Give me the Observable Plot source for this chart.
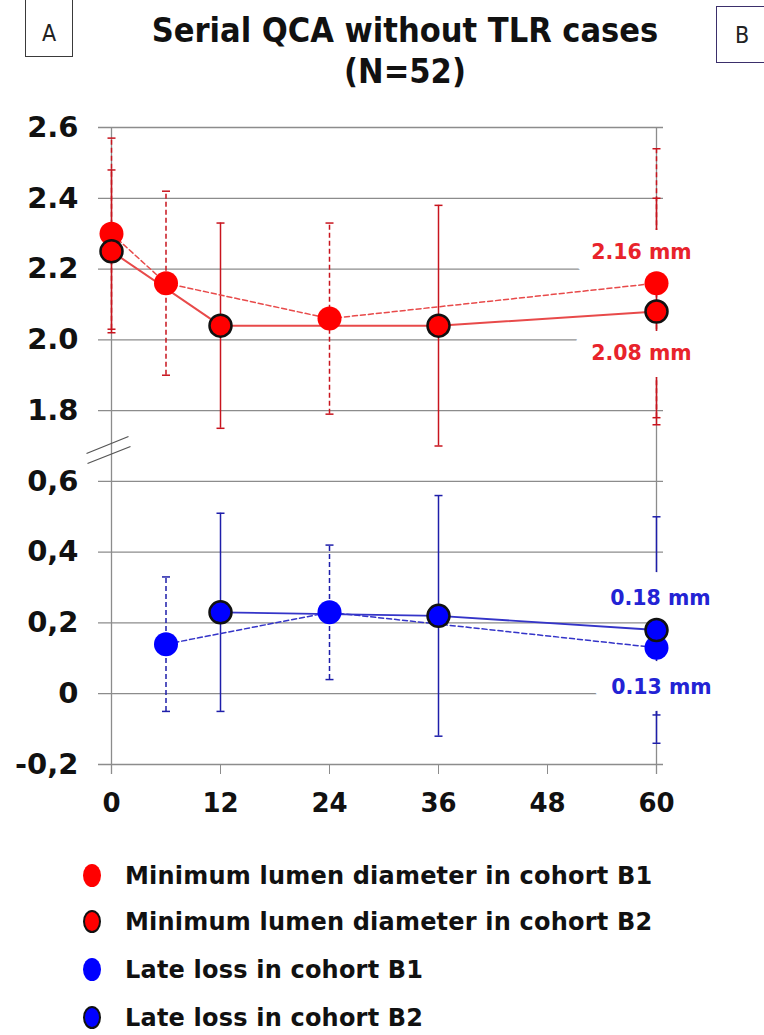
<!DOCTYPE html>
<html>
<head>
<meta charset="utf-8">
<script src="https://cdn.jsdelivr.net/npm/d3@7"></script>
<script src="https://cdn.jsdelivr.net/npm/@observablehq/plot@0.6"></script>
<style>
  body { margin: 0; background: #fff; }
  #page { position: relative; width: 764px; height: 1035px; overflow: hidden; font-family: "DejaVu Sans", sans-serif; background: #fff; }
  .title { position: absolute; left: 0; top: 10px; width: 810px; text-align: center; font-family: "DejaVu Sans Condensed", "DejaVu Sans", sans-serif; font-stretch: condensed; font-weight: bold; font-size: 34px; line-height: 41px; color: #111; }
  .boxA { position: absolute; left: 25px; top: -2px; width: 48px; height: 59px; border: 1.5px solid #3a3a3a; box-sizing: border-box; }
  .boxB { position: absolute; left: 716px; top: 6px; width: 70px; height: 57px; border: 1.5px solid #3b2f6b; box-sizing: border-box; }
  .letter { position: absolute; font-size: 23px; color: #222; line-height: 1; font-family: "DejaVu Sans Condensed", "DejaVu Sans", sans-serif; font-stretch: condensed; }
  #chart { position: absolute; left: 0; top: 100px; }
  .leg { position: absolute; left: 0; width: 764px; height: 30px; }
  .leg .mk { position: absolute; left: 83px; top: 3px; width: 18px; height: 23px; border-radius: 50%; box-sizing: border-box; }
  .leg .tx { position: absolute; left: 125px; top: 0; font-weight: bold; font-size: 24px; letter-spacing: 0.2px; line-height: 30px; color: #111; white-space: nowrap; }
</style>
</head>
<body>
<div id="page">
  <div class="boxA"></div>
  <div class="letter" style="left:42px;top:22px;">A</div>
  <div class="boxB"></div>
  <div class="letter" style="left:735px;top:24px;">B</div>
  <div class="title">Serial QCA without TLR cases<br>(N=52)</div>
  <div id="chart"></div>
  <div id="legend"></div>
</div>
<script>
// ---- data ----
const monthTicks = [0, 12, 24, 36, 48, 60];

const mldB1Months = [0, 6, 24, 60];
const mldB1 = [2.30, 2.16, 2.06, 2.16];
const mldB1Err = [0.27, 0.26, 0.27, 0.38];

const mldB2Months = [0, 12, 36, 60];
const mldB2 = [2.25, 2.04, 2.04, 2.08];
const mldB2Err = [0.23, 0.29, 0.34, 0.32];

const llB1Months = [6, 24, 60];
const llB1 = [0.14, 0.23, 0.13];
const llB1Err = [0.19, 0.19, 0.19];

const llB2Months = [12, 36, 60];
const llB2 = [0.23, 0.22, 0.18];
const llB2Err = [0.28, 0.34, 0.32];

const yTickValues = [-0.2, 0, 0.2, 0.4, 0.6, 1.8, 2.0, 2.2, 2.4, 2.6];
const yTickLabels = ["-0,2", "0", "0,2", "0,4", "0,6", "1.8", "2.0", "2.2", "2.4", "2.6"];

const legendLabels = [
  "Minimum lumen diameter in cohort B1",
  "Minimum lumen diameter in cohort B2",
  "Late loss in cohort B1",
  "Late loss in cohort B2"
];

// ---- broken axis: the upper panel (MLD) is shifted down by breakOffset ----
const breakOffset = 1.0;   // 1.8 sits one step above 0.6
const toPos = v => (v > 1 ? v - breakOffset : v);

function series(months, vals, errs) {
  return months.map((m, i) => ({
    month: m, value: vals[i],
    y: toPos(vals[i]), lo: toPos(vals[i] - errs[i]), hi: toPos(vals[i] + errs[i])
  }));
}
const sMB1 = series(mldB1Months, mldB1, mldB1Err);
const sMB2 = series(mldB2Months, mldB2, mldB2Err);
const sLB1 = series(llB1Months, llB1, llB1Err);
const sLB2 = series(llB2Months, llB2, llB2Err);

const yTickPos = yTickValues.map(toPos);
const labelByPos = new Map(yTickPos.map((p, i) => [p.toFixed(3), yTickLabels[i]]));
const breakPos = (toPos(yTickValues[5]) + yTickValues[4]) / 2;

const capSymbol = { draw(ctx, size) { const w = Math.sqrt(size / Math.PI); ctx.moveTo(-w, 0); ctx.lineTo(w, 0); } };
const breakSymbol = { draw(ctx) { ctx.moveTo(-22, 3.5); ctx.lineTo(20, -13.5); ctx.moveTo(-21, 13.5); ctx.lineTo(22, -3.5); } };

const RED = "#ff0000", RED_BAR = "#c8141e", RED_LINE = "#e84a4a";
const BLUE = "#0000ff", BLUE_BAR = "#1e1eaa", BLUE_LINE = "#3434c8";
const GRID = "#8c8c8c";

function errMarks(s, color, dash) {
  return [
    Plot.ruleX(s, { x: "month", y1: "lo", y2: "hi", stroke: color, strokeWidth: 1.5, strokeDasharray: dash }),
    Plot.dot(s, { x: "month", y: "hi", symbol: capSymbol, r: 4, stroke: color, strokeWidth: 1.5 }),
    Plot.dot(s, { x: "month", y: "lo", symbol: capSymbol, r: 4, stroke: color, strokeWidth: 1.5 })
  ];
}
const last = s => [s[s.length - 1]];
const fmt = d => `${d.value.toFixed(2)} mm`;
const labelOpts = { x: "month", y: "y", text: fmt, dx: -15, fontSize: 20.5, fontWeight: "bold", stroke: "white", strokeWidth: 34, strokeLinejoin: "round" };

const chart = Plot.plot({
  width: 764, height: 724,
  marginLeft: 111, marginRight: 108, marginTop: 27, marginBottom: 60,
  x: { domain: [0, 60] },
  y: { domain: [toPos(yTickValues[0]), toPos(yTickValues[yTickValues.length - 1])] },
  style: { fontFamily: "DejaVu Sans", background: "white", overflow: "visible" },
  marks: [
    Plot.ruleY(yTickPos, { stroke: GRID, strokeWidth: 1.3, insetLeft: -13, insetRight: -7 }),
    Plot.ruleX([0, 60], { stroke: GRID, strokeWidth: 1.3, insetBottom: -10 }),
    Plot.axisX({ ticks: monthTicks, tickSize: 10, tickPadding: 19, stroke: GRID, fill: "#111", fontSize: 26, fontWeight: "bold", label: null }),
    Plot.axisY({ ticks: yTickPos, tickSize: 0, tickPadding: 33, fill: "#111", fontSize: 29, fontWeight: "bold", label: null,
      tickFormat: d => labelByPos.get(d.toFixed(3)) }),
    Plot.dot([breakPos], { x: 0, y: d => d, symbol: breakSymbol, stroke: "#555", strokeWidth: 1.3, dx: -3, dy: 4 }),
    ...errMarks(sMB1, RED_BAR, "5,3"),
    ...errMarks(sMB2, RED_BAR, null),
    ...errMarks(sLB1, BLUE_BAR, "5,3"),
    ...errMarks(sLB2, BLUE_BAR, null),
    Plot.line(sMB1, { x: "month", y: "y", stroke: RED_LINE, strokeWidth: 1.5, strokeDasharray: "5,3" }),
    Plot.line(sMB2, { x: "month", y: "y", stroke: RED_LINE, strokeWidth: 2 }),
    Plot.line(sLB1, { x: "month", y: "y", stroke: BLUE_LINE, strokeWidth: 1.5, strokeDasharray: "5,3" }),
    Plot.line(sLB2, { x: "month", y: "y", stroke: BLUE_LINE, strokeWidth: 1.8 }),
    Plot.text(last(sMB1), { ...labelOpts, fill: "#e8232b", dy: -31 }),
    Plot.text(last(sMB2), { ...labelOpts, fill: "#e8232b", dy: 42 }),
    Plot.text(last(sLB2), { ...labelOpts, fill: "#2323d4", dy: -32, dx: 4 }),
    Plot.text(last(sLB1), { ...labelOpts, fill: "#2323d4", dy: 40, dx: 5 }),
    Plot.dot(sMB1, { x: "month", y: "y", r: 12, fill: RED }),
    Plot.dot(sMB2, { x: "month", y: "y", r: 11, fill: RED, stroke: "#111", strokeWidth: 2.5 }),
    Plot.dot(sLB1, { x: "month", y: "y", r: 12, fill: BLUE }),
    Plot.dot(sLB2, { x: "month", y: "y", r: 11, fill: BLUE, stroke: "#111", strokeWidth: 2.5 })
  ]
});
document.getElementById("chart").append(chart);

// ---- legend ----
const legendStyles = [
  { fill: RED, border: "none" },
  { fill: RED, border: "2.5px solid #111" },
  { fill: BLUE, border: "none" },
  { fill: BLUE, border: "2.5px solid #111" }
];
const legendY = [861, 907, 955, 1003];
const legend = document.getElementById("legend");
legendLabels.forEach((t, i) => {
  const row = document.createElement("div");
  row.className = "leg";
  row.style.top = legendY[i] + "px";
  row.innerHTML = `<div class="mk" style="background:${legendStyles[i].fill};border:${legendStyles[i].border}"></div><div class="tx">${t}</div>`;
  legend.append(row);
});
</script>
</body>
</html>
